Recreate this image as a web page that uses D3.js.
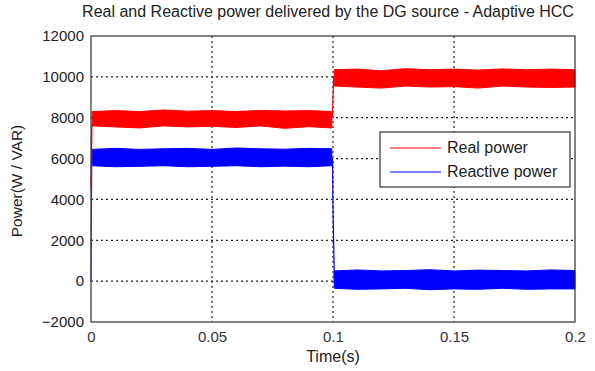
<!DOCTYPE html>
<html>
<head>
<meta charset="utf-8">
<script src="https://cdn.jsdelivr.net/npm/d3@7"></script>
<style>
  body { margin: 0; background: #fff; }
  text { font-family: Arial, "Liberation Sans", sans-serif; }
</style>
</head>
<body>
<div id="chart"></div>
<script>
// dati: inviluppo (max / min) del rumore per ogni tratto
var tBefore = [0.0005, 0.01, 0.02, 0.03, 0.04, 0.05, 0.06, 0.07, 0.08, 0.09, 0.0995];
var tAfter  = [0.1005, 0.11, 0.12, 0.13, 0.14, 0.15, 0.16, 0.17, 0.18, 0.19, 0.2];

var realHiBefore = [8300, 8350, 8300, 8380, 8320, 8350, 8300, 8360, 8330, 8350, 8300];
var realLoBefore = [7600, 7550, 7500, 7600, 7550, 7580, 7520, 7600, 7480, 7560, 7500];
var realHiAfter  = [10350, 10380, 10300, 10400, 10350, 10380, 10330, 10390, 10350, 10380, 10350];
var realLoAfter  = [9550, 9500, 9450, 9550, 9500, 9520, 9450, 9550, 9500, 9480, 9500];

var reacHiBefore = [6450, 6500, 6450, 6480, 6500, 6450, 6520, 6480, 6460, 6500, 6480];
var reacLoBefore = [5650, 5600, 5620, 5650, 5600, 5620, 5650, 5600, 5630, 5600, 5650];
var reacHiAfter  = [500, 550, 500, 520, 560, 500, 540, 520, 500, 550, 520];
var reacLoAfter  = [-350, -400, -380, -350, -420, -380, -400, -350, -400, -380, -380];

// transitori iniziali e al gradino
var realStep = [[0, 4500], [0.0004, 7700], [0.0998, 8000], [0.1, 9000], [0.1003, 10000]];
var reacStep = [[0, 0], [0.0003, 5800], [0.0998, 6000], [0.1, 3500], [0.1006, 0]];

var xTicks = [0, 0.05, 0.1, 0.15, 0.2];
var xTickLabels = ["0", "0.05", "0.1", "0.15", "0.2"];
var yTicks = [-2000, 0, 2000, 4000, 6000, 8000, 10000, 12000];

var margin = {top: 36, right: 20, bottom: 49, left: 91};
var width = 595 - margin.left - margin.right;
var height = 371 - margin.top - margin.bottom;

var svg = d3.select("#chart")
	.append("svg")
	.attr("width", 595)
	.attr("height", 371)
	.append("g")
	.attr("transform", "translate(" + margin.left + "," + margin.top + ")");

var x = d3.scaleLinear().domain([0, 0.2]).range([0, width]);
var y = d3.scaleLinear().domain([-2000, 12000]).range([height, 0]);

// griglia tratteggiata
svg.append("g")
	.selectAll("line")
	.data(xTicks.slice(1, -1))
	.enter()
	.append("line")
	.attr("x1", function (d) { return x(d); })
	.attr("x2", function (d) { return x(d); })
	.attr("y1", 0)
	.attr("y2", height)
	.attr("stroke", "#222")
	.attr("stroke-width", 1.2)
	.attr("stroke-dasharray", "2,3");

svg.append("g")
	.selectAll("line")
	.data(yTicks.slice(1, -1))
	.enter()
	.append("line")
	.attr("x1", 0)
	.attr("x2", width)
	.attr("y1", function (d) { return y(d); })
	.attr("y2", function (d) { return y(d); })
	.attr("stroke", "#222")
	.attr("stroke-width", 1.2)
	.attr("stroke-dasharray", "2,3");

// bande di rumore
function band(t, hi, lo, color) {
	var pts = t.map(function (d, i) { return {t: d, hi: hi[i], lo: lo[i]}; });
	var area = d3.area()
		.x(function (d) { return x(d.t); })
		.y0(function (d) { return y(d.lo); })
		.y1(function (d) { return y(d.hi); });
	svg.append("path")
		.datum(pts)
		.attr("d", area)
		.attr("fill", color)
		.attr("stroke", color)
		.attr("stroke-width", 1);
}

var line = d3.line()
	.x(function (d) { return x(d[0]); })
	.y(function (d) { return y(d[1]); });

band(tBefore, realHiBefore, realLoBefore, "#ff0000");
band(tAfter, realHiAfter, realLoAfter, "#ff0000");
band(tBefore, reacHiBefore, reacLoBefore, "#0000ff");
band(tAfter, reacHiAfter, reacLoAfter, "#0000ff");

svg.append("path").datum(realStep.slice(0, 2)).attr("d", line)
	.attr("fill", "none").attr("stroke", "#ff0000").attr("stroke-width", 1.2);
svg.append("path").datum(realStep.slice(2)).attr("d", line)
	.attr("fill", "none").attr("stroke", "#ff0000").attr("stroke-width", 1.2);
svg.append("path").datum(reacStep.slice(0, 2)).attr("d", line)
	.attr("fill", "none").attr("stroke", "#4040ff").attr("stroke-width", 1.2);
svg.append("path").datum(reacStep.slice(2)).attr("d", line)
	.attr("fill", "none").attr("stroke", "#0000ff").attr("stroke-width", 1.2);

// assi
svg.append("g")
	.attr("transform", "translate(0," + height + ")")
	.call(d3.axisBottom(x).tickValues(xTicks).tickSize(0).tickPadding(9)
		.tickFormat(function (d, i) { return xTickLabels[i]; }))
	.call(function (g) { g.select(".domain").remove(); })
	.selectAll("text")
	.attr("fill", "#333")
	.style("font-size", "15px");

svg.append("g")
	.call(d3.axisLeft(y).tickValues(yTicks).tickSize(0).tickPadding(7).tickFormat(d3.format("d")))
	.call(function (g) { g.select(".domain").remove(); })
	.selectAll("text")
	.attr("fill", "#222")
	.style("font-size", "15px");

svg.append("rect")
	.attr("x", 0)
	.attr("y", 0)
	.attr("width", width)
	.attr("height", height)
	.attr("fill", "none")
	.attr("stroke", "#333")
	.attr("stroke-width", 1.2);

// titolo ed etichette
svg.append("text")
	.attr("x", width / 2 - 5)
	.attr("y", -23)
	.attr("text-anchor", "middle")
	.attr("dominant-baseline", "middle")
	.attr("fill", "#222")
	.style("font-size", "16px")
	.text("Real and Reactive power delivered by the DG source - Adaptive HCC");

svg.append("text")
	.attr("x", width / 2)
	.attr("y", height + 36)
	.attr("text-anchor", "middle")
	.attr("dominant-baseline", "middle")
	.attr("fill", "#222")
	.style("font-size", "16px")
	.text("Time(s)");

svg.append("text")
	.attr("transform", "translate(-73," + (height / 2 + 2) + ") rotate(-90)")
	.attr("text-anchor", "middle")
	.attr("dominant-baseline", "middle")
	.attr("fill", "#222")
	.style("font-size", "15.5px")
	.text("Power(W / VAR)");

// legenda
var legendItems = [{name: "Real power", color: "#ff0000"}, {name: "Reactive power", color: "#0000ff"}];
var legend = svg.append("g").attr("transform", "translate(" + (380 - margin.left) + "," + (132 - margin.top) + ")");
legend.append("rect")
	.attr("width", 190)
	.attr("height", 55)
	.attr("fill", "#fff")
	.attr("stroke", "#333")
	.attr("stroke-width", 1.2);
legendItems.forEach(function (d, i) {
	legend.append("line")
		.attr("x1", 10).attr("x2", 61)
		.attr("y1", 16 + i * 24).attr("y2", 16 + i * 24)
		.attr("stroke", d.color).attr("stroke-width", 1.2);
	legend.append("text")
		.attr("x", 67).attr("y", 17 + i * 24)
		.attr("dominant-baseline", "middle")
		.attr("fill", "#222")
		.style("font-size", "16px")
		.text(d.name);
});
</script>
</body>
</html>
